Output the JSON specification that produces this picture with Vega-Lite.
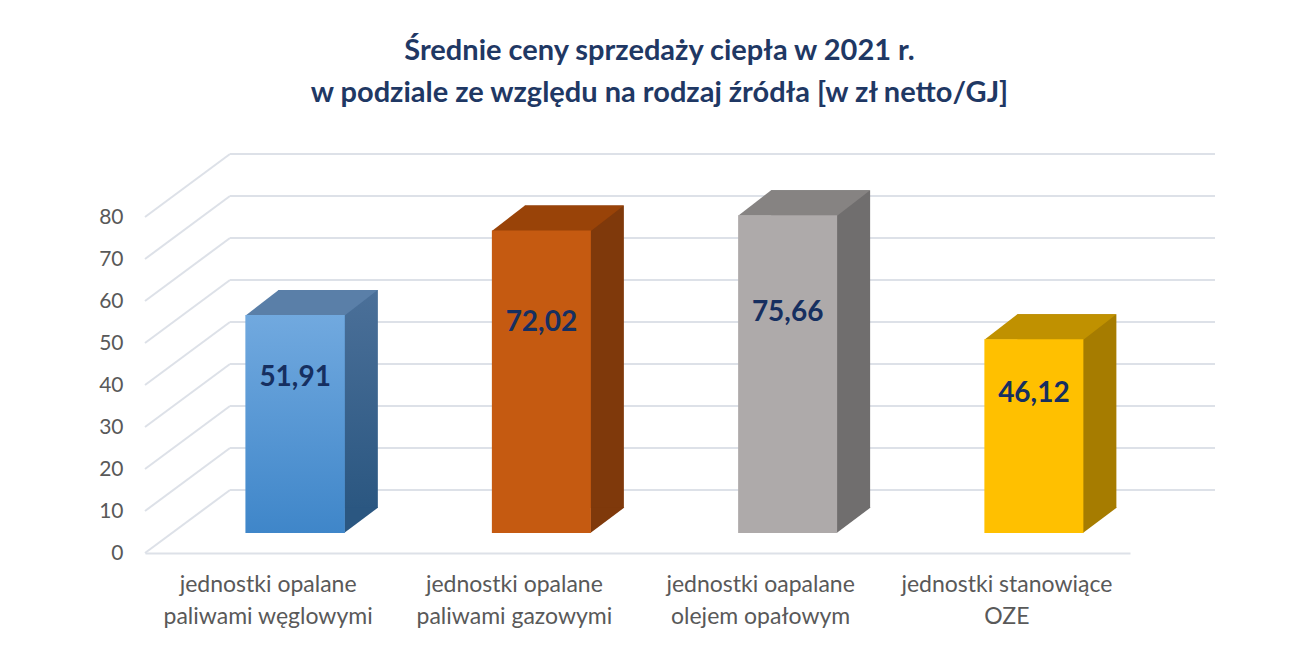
{
  "$schema": "https://vega.github.io/schema/vega-lite/v6.json",
  "width": 985,
  "height": 336,
  "autosize": "none",
  "padding": {"left": 145, "top": 217, "right": 184, "bottom": 95},
  "background": "white",
  "title": {
    "text": ["Średnie ceny sprzedaży ciepła w 2021 r.", "w podziale ze względu na rodzaj źródła [w zł netto/GJ]"],
    "font": "Lato",
    "fontSize": 29,
    "fontWeight": "bold",
    "color": "#1f3864",
    "anchor": "middle",
    "lineHeight": 42,
    "offset": 45,
    "dx": 22
  },
  "datasets": {
    "bars": [
      {"cat": "jednostki opalane\npaliwami węglowymi", "value": 51.91},
      {"cat": "jednostki opalane\npaliwami gazowymi", "value": 72.02},
      {"cat": "jednostki oapalane\nolejem opałowym", "value": 75.66},
      {"cat": "jednostki stanowiące\nOZE", "value": 46.12}
    ],
    "ticks": [
      {"tick": 0}, {"tick": 10}, {"tick": 20}, {"tick": 30}, {"tick": 40},
      {"tick": 50}, {"tick": 60}, {"tick": 70}, {"tick": 80}
    ]
  },
  "layer": [
    {
      "data": {"name": "ticks"},
      "mark": {"type": "rule", "color": "#dde1e8", "strokeWidth": 2, "xOffset": 85, "x2Offset": 85, "yOffset": -63},
      "encoding": {
        "x": {"value": 0},
        "x2": {"value": "width"},
        "y": {"field": "tick", "type": "quantitative", "scale": {"domain": [0, 80], "nice": false}, "axis": null}
      }
    },
    {
      "data": {"name": "ticks"},
      "mark": {"type": "rule", "color": "#dde1e8", "strokeWidth": 2, "x2Offset": 85, "y2Offset": -63},
      "encoding": {
        "x": {"value": 0},
        "x2": {"value": 0},
        "y": {"field": "tick", "type": "quantitative", "scale": {"domain": [0, 80], "nice": false}, "axis": null},
        "y2": {"field": "tick"}
      }
    },
    {
      "data": {"name": "bars"},
      "mark": {"type": "bar", "width": 99, "xOffset": 60, "yOffset": -45, "y2Offset": -45},
      "encoding": {
        "x": {"field": "cat", "type": "nominal", "sort": null, "scale": {"paddingInner": 0, "paddingOuter": 0}},
        "y": {"field": "value", "type": "quantitative", "scale": {"domain": [0, 80], "nice": false}, "axis": null},
        "color": {"field": "cat", "type": "nominal", "sort": null, "legend": null,
          "scale": {"range": ["#3e6791", "#7f390b", "#706e6e", "#a67c00"]}}
      }
    },
    {
      "data": {"name": "bars"},
      "transform": [{"filter": "datum.value == 51.91"}],
      "mark": {"type": "bar", "width": 99, "xOffset": 60, "yOffset": -45, "y2Offset": -45,
        "color": {"gradient": "linear", "x1": 0, "y1": 0, "x2": 0, "y2": 1,
          "stops": [{"offset": 0, "color": "#4b7099"}, {"offset": 1, "color": "#2b5781"}]}},
      "encoding": {
        "x": {"field": "cat", "type": "nominal", "sort": null},
        "y": {"field": "value", "type": "quantitative", "scale": {"domain": [0, 80], "nice": false}, "axis": null}
      }
    },
    {
      "data": {"name": "bars"},
      "mark": {"type": "point", "filled": true, "opacity": 1, "strokeWidth": 0, "size": 10000,
        "shape": "M 0.98 0 L 1.66 -0.51 L 0.98 -0.51 Z", "xOffset": 27, "yOffset": -20},
      "encoding": {
        "x": {"field": "cat", "type": "nominal", "sort": null},
        "y": {"datum": 0, "type": "quantitative", "scale": {"domain": [0, 80], "nice": false}, "axis": null},
        "color": {"field": "cat", "type": "nominal", "sort": null, "legend": null,
          "scale": {"range": ["#2b5781", "#7f390b", "#706e6e", "#a67c00"]}}
      }
    },
    {
      "data": {"name": "bars"},
      "mark": {"type": "point", "filled": true, "opacity": 1, "strokeWidth": 0, "size": 10000,
        "shape": "M -0.99 0.01 L 0.99 0.01 L 1.65 -0.5 L -0.33 -0.5 Z", "xOffset": 27, "yOffset": -20},
      "encoding": {
        "x": {"field": "cat", "type": "nominal", "sort": null},
        "y": {"field": "value", "type": "quantitative", "scale": {"domain": [0, 80], "nice": false}, "axis": null},
        "color": {"field": "cat", "type": "nominal", "sort": null, "legend": null,
          "scale": {"range": ["#5a7fa8", "#994308", "#868382", "#c09100"]}}
      }
    },
    {
      "data": {"name": "bars"},
      "mark": {"type": "bar", "width": 99, "xOffset": 27, "yOffset": -20, "y2Offset": -20},
      "encoding": {
        "x": {"field": "cat", "type": "nominal", "sort": null, "title": null,
          "axis": {"labelAngle": 0, "labelAlign": "center", "labelLimit": 400, "labelExpr": "split(datum.label, '\\n')",
            "labelFont": "Lato", "labelFontSize": 23, "labelColor": "#595959", "labelLineHeight": 32,
            "labelPadding": 31, "ticks": false, "domainColor": "#dde1e8", "domainWidth": 2, "grid": false}},
        "y": {"field": "value", "type": "quantitative", "scale": {"domain": [0, 80], "nice": false}, "title": null,
          "axis": {"values": [0, 10, 20, 30, 40, 50, 60, 70, 80], "labelFont": "Lato", "labelFontSize": 21,
            "labelColor": "#595959", "labelPadding": 22, "ticks": false, "domain": false, "grid": false}},
        "color": {"field": "cat", "type": "nominal", "sort": null, "legend": null,
          "scale": {"range": ["#5b9bd5", "#c55a11", "#aeaaaa", "#ffc000"]}}
      }
    },
    {
      "data": {"name": "bars"},
      "transform": [{"filter": "datum.value == 51.91"}],
      "mark": {"type": "bar", "width": 99, "xOffset": 27, "yOffset": -20, "y2Offset": -20,
        "color": {"gradient": "linear", "x1": 0, "y1": 0, "x2": 0, "y2": 1,
          "stops": [{"offset": 0, "color": "#71a9df"}, {"offset": 1, "color": "#3f86c9"}]}},
      "encoding": {
        "x": {"field": "cat", "type": "nominal", "sort": null},
        "y": {"field": "value", "type": "quantitative", "scale": {"domain": [0, 80], "nice": false}, "axis": null}
      }
    },
    {
      "data": {"name": "bars"},
      "mark": {"type": "text", "xOffset": 27, "font": "Lato", "fontSize": 28, "fontWeight": "bold",
        "color": "#162f60", "baseline": "middle", "align": "center"},
      "encoding": {
        "x": {"field": "cat", "type": "nominal", "sort": null},
        "y": {"field": "value", "type": "quantitative", "scale": {"domain": [-12.07, 110.78], "nice": false, "zero": false}, "axis": null},
        "text": {"field": "value", "type": "quantitative", "format": ".2f"}
      }
    }
  ],
  "resolve": {"scale": {"y": "independent", "color": "independent"}},
  "config": {
    "view": {"stroke": null},
    "locale": {"number": {"decimal": ",", "thousands": " ", "grouping": [3], "currency": ["", " zł"]}}
  }
}
